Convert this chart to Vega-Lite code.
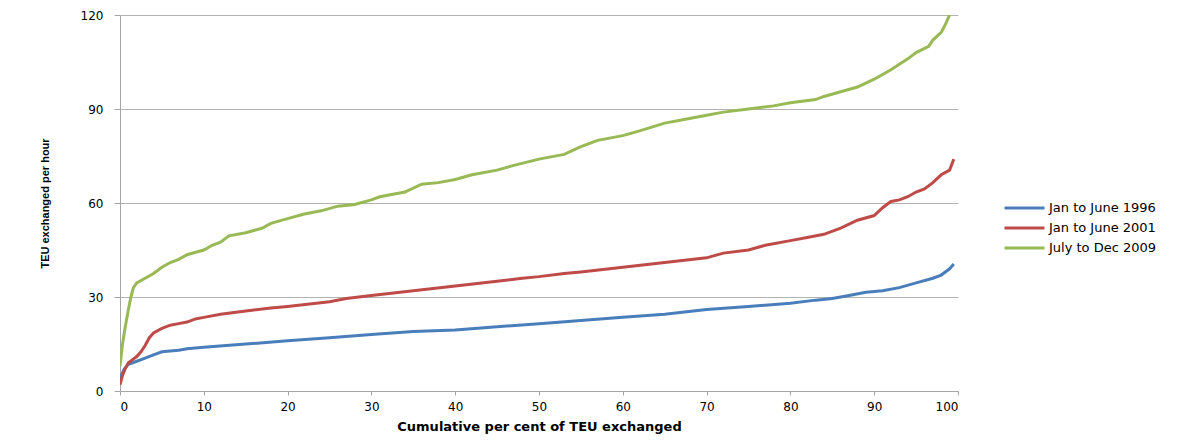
{
  "$schema": "https://vega.github.io/schema/vega-lite/v6.json",
  "width": 838,
  "height": 376,
  "autosize": {"type": "none"},
  "padding": {"left": 120, "top": 15, "right": 244, "bottom": 56},
  "background": "white",
  "config": {"view": {"stroke": null}},
  "datasets": {
    "d": [
      {"s": "Jan to June 1996", "x": 0, "y": 4},
      {"s": "Jan to June 1996", "x": 0.5, "y": 7},
      {"s": "Jan to June 1996", "x": 1, "y": 8.5},
      {"s": "Jan to June 1996", "x": 2, "y": 9.5},
      {"s": "Jan to June 1996", "x": 3, "y": 10.5},
      {"s": "Jan to June 1996", "x": 4, "y": 11.5},
      {"s": "Jan to June 1996", "x": 5, "y": 12.5},
      {"s": "Jan to June 1996", "x": 7, "y": 13},
      {"s": "Jan to June 1996", "x": 8, "y": 13.5},
      {"s": "Jan to June 1996", "x": 10, "y": 14},
      {"s": "Jan to June 1996", "x": 15, "y": 15},
      {"s": "Jan to June 1996", "x": 20, "y": 16},
      {"s": "Jan to June 1996", "x": 25, "y": 17},
      {"s": "Jan to June 1996", "x": 30, "y": 18},
      {"s": "Jan to June 1996", "x": 35, "y": 19},
      {"s": "Jan to June 1996", "x": 40, "y": 19.5},
      {"s": "Jan to June 1996", "x": 45, "y": 20.5},
      {"s": "Jan to June 1996", "x": 50, "y": 21.5},
      {"s": "Jan to June 1996", "x": 55, "y": 22.5},
      {"s": "Jan to June 1996", "x": 60, "y": 23.5},
      {"s": "Jan to June 1996", "x": 65, "y": 24.5},
      {"s": "Jan to June 1996", "x": 70, "y": 26},
      {"s": "Jan to June 1996", "x": 75, "y": 27},
      {"s": "Jan to June 1996", "x": 80, "y": 28},
      {"s": "Jan to June 1996", "x": 83, "y": 29},
      {"s": "Jan to June 1996", "x": 85, "y": 29.5},
      {"s": "Jan to June 1996", "x": 87, "y": 30.5},
      {"s": "Jan to June 1996", "x": 89, "y": 31.5},
      {"s": "Jan to June 1996", "x": 91, "y": 32},
      {"s": "Jan to June 1996", "x": 93, "y": 33},
      {"s": "Jan to June 1996", "x": 95, "y": 34.5},
      {"s": "Jan to June 1996", "x": 97, "y": 36},
      {"s": "Jan to June 1996", "x": 98, "y": 37},
      {"s": "Jan to June 1996", "x": 99, "y": 39},
      {"s": "Jan to June 1996", "x": 99.5, "y": 40.5},
      {"s": "Jan to June 2001", "x": 0, "y": 2},
      {"s": "Jan to June 2001", "x": 0.3, "y": 5},
      {"s": "Jan to June 2001", "x": 0.6, "y": 7},
      {"s": "Jan to June 2001", "x": 1, "y": 9},
      {"s": "Jan to June 2001", "x": 1.5, "y": 10},
      {"s": "Jan to June 2001", "x": 2, "y": 11},
      {"s": "Jan to June 2001", "x": 2.5, "y": 12.5},
      {"s": "Jan to June 2001", "x": 3, "y": 14.5},
      {"s": "Jan to June 2001", "x": 3.5, "y": 17},
      {"s": "Jan to June 2001", "x": 4, "y": 18.5},
      {"s": "Jan to June 2001", "x": 5, "y": 20},
      {"s": "Jan to June 2001", "x": 6, "y": 21},
      {"s": "Jan to June 2001", "x": 7, "y": 21.5},
      {"s": "Jan to June 2001", "x": 8, "y": 22},
      {"s": "Jan to June 2001", "x": 9, "y": 23},
      {"s": "Jan to June 2001", "x": 10, "y": 23.5},
      {"s": "Jan to June 2001", "x": 12, "y": 24.5},
      {"s": "Jan to June 2001", "x": 15, "y": 25.5},
      {"s": "Jan to June 2001", "x": 18, "y": 26.5},
      {"s": "Jan to June 2001", "x": 20, "y": 27},
      {"s": "Jan to June 2001", "x": 25, "y": 28.5},
      {"s": "Jan to June 2001", "x": 27, "y": 29.5},
      {"s": "Jan to June 2001", "x": 30, "y": 30.5},
      {"s": "Jan to June 2001", "x": 35, "y": 32},
      {"s": "Jan to June 2001", "x": 40, "y": 33.5},
      {"s": "Jan to June 2001", "x": 45, "y": 35},
      {"s": "Jan to June 2001", "x": 48, "y": 36},
      {"s": "Jan to June 2001", "x": 50, "y": 36.5},
      {"s": "Jan to June 2001", "x": 53, "y": 37.5},
      {"s": "Jan to June 2001", "x": 55, "y": 38},
      {"s": "Jan to June 2001", "x": 60, "y": 39.5},
      {"s": "Jan to June 2001", "x": 65, "y": 41},
      {"s": "Jan to June 2001", "x": 70, "y": 42.5},
      {"s": "Jan to June 2001", "x": 72, "y": 44},
      {"s": "Jan to June 2001", "x": 75, "y": 45},
      {"s": "Jan to June 2001", "x": 77, "y": 46.5},
      {"s": "Jan to June 2001", "x": 80, "y": 48},
      {"s": "Jan to June 2001", "x": 82, "y": 49},
      {"s": "Jan to June 2001", "x": 84, "y": 50},
      {"s": "Jan to June 2001", "x": 86, "y": 52},
      {"s": "Jan to June 2001", "x": 88, "y": 54.5},
      {"s": "Jan to June 2001", "x": 90, "y": 56},
      {"s": "Jan to June 2001", "x": 91, "y": 58.5},
      {"s": "Jan to June 2001", "x": 92, "y": 60.5},
      {"s": "Jan to June 2001", "x": 93, "y": 61},
      {"s": "Jan to June 2001", "x": 94, "y": 62},
      {"s": "Jan to June 2001", "x": 95, "y": 63.5},
      {"s": "Jan to June 2001", "x": 96, "y": 64.5},
      {"s": "Jan to June 2001", "x": 97, "y": 66.5},
      {"s": "Jan to June 2001", "x": 98, "y": 69},
      {"s": "Jan to June 2001", "x": 99, "y": 70.5},
      {"s": "Jan to June 2001", "x": 99.5, "y": 74},
      {"s": "July to  Dec 2009", "x": 0, "y": 8},
      {"s": "July to  Dec 2009", "x": 0.3, "y": 15},
      {"s": "July to  Dec 2009", "x": 0.6, "y": 20},
      {"s": "July to  Dec 2009", "x": 1, "y": 26},
      {"s": "July to  Dec 2009", "x": 1.3, "y": 30},
      {"s": "July to  Dec 2009", "x": 1.6, "y": 33},
      {"s": "July to  Dec 2009", "x": 2, "y": 34.5},
      {"s": "July to  Dec 2009", "x": 3, "y": 36},
      {"s": "July to  Dec 2009", "x": 4, "y": 37.5},
      {"s": "July to  Dec 2009", "x": 5, "y": 39.5},
      {"s": "July to  Dec 2009", "x": 6, "y": 41},
      {"s": "July to  Dec 2009", "x": 7, "y": 42},
      {"s": "July to  Dec 2009", "x": 8, "y": 43.5},
      {"s": "July to  Dec 2009", "x": 10, "y": 45},
      {"s": "July to  Dec 2009", "x": 11, "y": 46.5},
      {"s": "July to  Dec 2009", "x": 12, "y": 47.5},
      {"s": "July to  Dec 2009", "x": 13, "y": 49.5},
      {"s": "July to  Dec 2009", "x": 15, "y": 50.5},
      {"s": "July to  Dec 2009", "x": 17, "y": 52},
      {"s": "July to  Dec 2009", "x": 18, "y": 53.5},
      {"s": "July to  Dec 2009", "x": 20, "y": 55},
      {"s": "July to  Dec 2009", "x": 22, "y": 56.5},
      {"s": "July to  Dec 2009", "x": 24, "y": 57.5},
      {"s": "July to  Dec 2009", "x": 26, "y": 59},
      {"s": "July to  Dec 2009", "x": 28, "y": 59.5},
      {"s": "July to  Dec 2009", "x": 30, "y": 61},
      {"s": "July to  Dec 2009", "x": 31, "y": 62},
      {"s": "July to  Dec 2009", "x": 34, "y": 63.5},
      {"s": "July to  Dec 2009", "x": 36, "y": 66},
      {"s": "July to  Dec 2009", "x": 38, "y": 66.5},
      {"s": "July to  Dec 2009", "x": 40, "y": 67.5},
      {"s": "July to  Dec 2009", "x": 42, "y": 69},
      {"s": "July to  Dec 2009", "x": 45, "y": 70.5},
      {"s": "July to  Dec 2009", "x": 47, "y": 72},
      {"s": "July to  Dec 2009", "x": 50, "y": 74},
      {"s": "July to  Dec 2009", "x": 53, "y": 75.5},
      {"s": "July to  Dec 2009", "x": 55, "y": 78},
      {"s": "July to  Dec 2009", "x": 57, "y": 80},
      {"s": "July to  Dec 2009", "x": 60, "y": 81.5},
      {"s": "July to  Dec 2009", "x": 62, "y": 83},
      {"s": "July to  Dec 2009", "x": 65, "y": 85.5},
      {"s": "July to  Dec 2009", "x": 67, "y": 86.5},
      {"s": "July to  Dec 2009", "x": 70, "y": 88},
      {"s": "July to  Dec 2009", "x": 72, "y": 89},
      {"s": "July to  Dec 2009", "x": 75, "y": 90},
      {"s": "July to  Dec 2009", "x": 78, "y": 91},
      {"s": "July to  Dec 2009", "x": 80, "y": 92},
      {"s": "July to  Dec 2009", "x": 83, "y": 93},
      {"s": "July to  Dec 2009", "x": 84, "y": 94},
      {"s": "July to  Dec 2009", "x": 86, "y": 95.5},
      {"s": "July to  Dec 2009", "x": 88, "y": 97},
      {"s": "July to  Dec 2009", "x": 90, "y": 99.5},
      {"s": "July to  Dec 2009", "x": 92, "y": 102.5},
      {"s": "July to  Dec 2009", "x": 94, "y": 106},
      {"s": "July to  Dec 2009", "x": 95, "y": 108},
      {"s": "July to  Dec 2009", "x": 96.5, "y": 110},
      {"s": "July to  Dec 2009", "x": 97, "y": 112},
      {"s": "July to  Dec 2009", "x": 98, "y": 114.5},
      {"s": "July to  Dec 2009", "x": 98.5, "y": 117},
      {"s": "July to  Dec 2009", "x": 99, "y": 120}
    ]
  },
  "data": {"name": "d"},
  "mark": {"type": "line", "strokeWidth": 3, "interpolate": "linear", "clip": true},
  "encoding": {
    "x": {
      "field": "x", "type": "quantitative",
      "scale": {"domain": [0, 100], "nice": false},
      "axis": {
        "values": [0, 10, 20, 30, 40, 50, 60, 70, 80, 90, 100],
        "title": "Cumulative per cent of TEU exchanged",
        "titleFont": "DejaVu Sans", "titleFontSize": 13, "titleFontWeight": "bold", "titleColor": "#000",
        "titlePadding": 8,
        "labelFont": "DejaVu Sans", "labelFontSize": 12, "labelColor": "#000", "labelPadding": 6,
        "domainColor": "#a6a6a6", "tickColor": "#a6a6a6", "tickSize": 4,
        "grid": false
      }
    },
    "y": {
      "field": "y", "type": "quantitative",
      "scale": {"domain": [0, 120], "nice": false},
      "axis": {
        "values": [0, 30, 60, 90, 120],
        "title": "TEU exchanged per hour",
        "titleFont": "Liberation Sans", "titleFontSize": 11, "titleFontWeight": "bold", "titleColor": "#000",
        "titlePadding": 30,
        "labelFont": "DejaVu Sans", "labelFontSize": 12, "labelColor": "#000", "labelPadding": 11,
        "domainColor": "#a6a6a6", "tickColor": "#a6a6a6", "tickSize": 6,
        "grid": true, "gridColor": "#b3b3b3", "gridWidth": 1
      }
    },
    "color": {
      "field": "s", "type": "nominal",
      "scale": {
        "domain": ["Jan to June 1996", "Jan to June 2001", "July to  Dec 2009"],
        "range": ["#4a7ebb", "#be4b48", "#98b954"]
      },
      "legend": {
        "title": null,
        "orient": "none",
        "legendX": 883,
        "legendY": 183,
        "symbolType": "stroke",
        "symbolSize": 1600,
        "symbolStrokeWidth": 3,
        "clipHeight": 20,
        "labelFont": "DejaVu Sans",
        "labelFontSize": 13,
        "labelColor": "#000",
        "labelOffset": 3,
        "rowPadding": 0
      }
    }
  }
}
